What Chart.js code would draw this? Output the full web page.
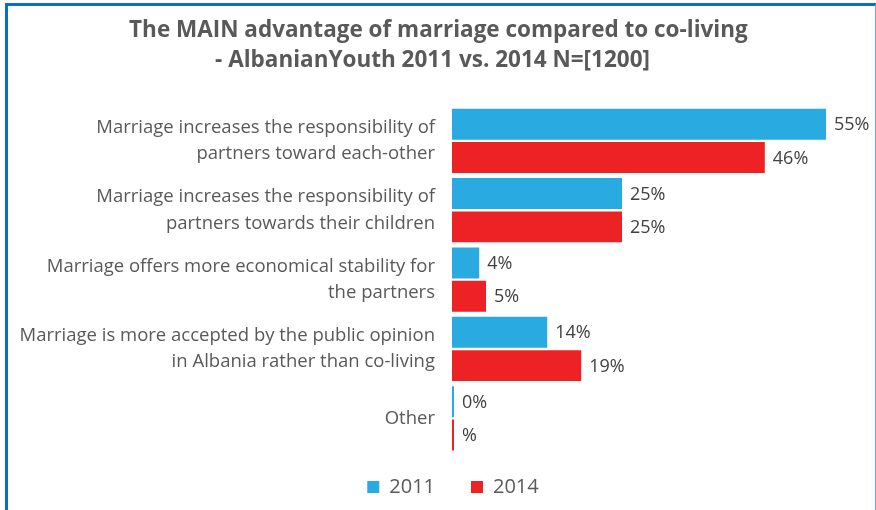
<!DOCTYPE html>
<html>
<head>
<meta charset="utf-8">
<script src="https://cdn.jsdelivr.net/npm/chart.js@4"></script>
<style>
  html, body { margin: 0; padding: 0; background: #fff; overflow: hidden; }
  #wrap { position: relative; width: 876px; height: 510px; overflow: hidden; }
  #frame {
    position: absolute; left: 5px; top: 3px; width: 867px; height: 520px;
    border-top: 3px solid #0B6FBF; border-left: 3px solid #0B6FBF; border-right: 1px solid #6AA6DA;
    pointer-events: none;
  }
</style>
</head>
<body>
<div id="wrap">
  <canvas id="chart" width="910" height="510"></canvas>
  <div id="frame"></div>
</div>
<script>
// categories and values
const categories = [
    ['Marriage increases the responsibility of', 'partners toward each-other'],
    ['Marriage increases the responsibility of', 'partners towards their children'],
    ['Marriage offers more economical stability for', 'the partners'],
    ['Marriage is more accepted by the public opinion', 'in Albania rather than co-living'],
    'Other'
];
const values2011 = [55, 25, 4, 14, 0];
const values2014 = [46, 25, 5, 19, 0];
const labels2011 = ['55%', '25%', '4%', '14%', '0%'];
const labels2014 = ['46%', '25%', '5%', '19%', '%'];   // last one has no number in the source

const FONT = "'Open Sans', sans-serif";
const PAD = '\u00a0\u00a0\u00a0\u00a0\u00a0';   // nudges the centred title a bit left

// draw the value text right of every bar
const valueLabels = {
    id: 'valueLabels',
    afterDatasetsDraw(chart) {
        const ctx = chart.ctx;
        ctx.save();
        ctx.font = '18px ' + FONT;
        ctx.fillStyle = '#404040';
        ctx.textAlign = 'left';
        ctx.textBaseline = 'middle';
        chart.data.datasets.forEach((ds, i) => {
            chart.getDatasetMeta(i).data.forEach((bar, j) => {
                ctx.fillText(ds.valueText[j], bar.x + 8, bar.y + 1);
            });
        });
        ctx.restore();
    }
};

const ctx = document.getElementById('chart').getContext('2d');
new Chart(ctx, {
    type: 'bar',
    data: {
        labels: categories,
        datasets: [{
            label: '2011',
            data: values2011,
            valueText: labels2011,
            backgroundColor: '#29ABE2',
            barPercentage: 0.93,
            categoryPercentage: 0.96,
            minBarLength: 2
        }, {
            label: '2014',
            data: values2014,
            valueText: labels2014,
            backgroundColor: '#ED2224',
            barPercentage: 0.93,
            categoryPercentage: 0.96,
            minBarLength: 2
        }]
    },
    options: {
        indexAxis: 'y',
        responsive: false,
        animation: false,
        layout: { padding: { left: 12, right: 16, top: 0, bottom: 3 } },
        plugins: {
            title: {
                display: true,
                text: ['The MAIN advantage of marriage compared to co-living' + PAD,
                       '- AlbanianYouth 2011 vs. 2014 N=[1200]' + PAD + '\u00a0\u00a0'],
                color: '#595959',
                font: { family: FONT, size: 22.5, weight: 'bold', lineHeight: 1.36 },
                padding: { top: 15, bottom: 30 }
            },
            legend: {
                position: 'bottom',
                labels: {
                    color: '#595959',
                    font: { family: FONT, size: 20 },
                    boxWidth: 12,
                    boxHeight: 12,
                    padding: 10,
                    generateLabels(chart) {
                        const items = Chart.defaults.plugins.legend.labels.generateLabels(chart);
                        // wider gap after the first item, as in the source
                        items[0].text = items[0].text + '\u00a0\u00a0\u00a0\u00a0\u00a0';
                        items.forEach(it => { it.lineWidth = 0; });
                        return items;
                    }
                }
            },
            tooltip: { enabled: false }
        },
        scales: {
            x: {
                min: 0,
                max: 65,
                display: true,
                grid: { display: false },
                border: { display: false },
                ticks: { display: false },
                afterFit(scale) { scale.height = 14; }
            },
            y: {
                grid: { display: false },
                border: { display: false },
                ticks: {
                    color: '#595959',
                    font: { family: FONT, size: 18.5, lineHeight: 1.41 },
                    padding: 9
                },
                afterFit(scale) { scale.width = 440; }
            }
        }
    },
    plugins: [valueLabels]
});
</script>
</body>
</html>
